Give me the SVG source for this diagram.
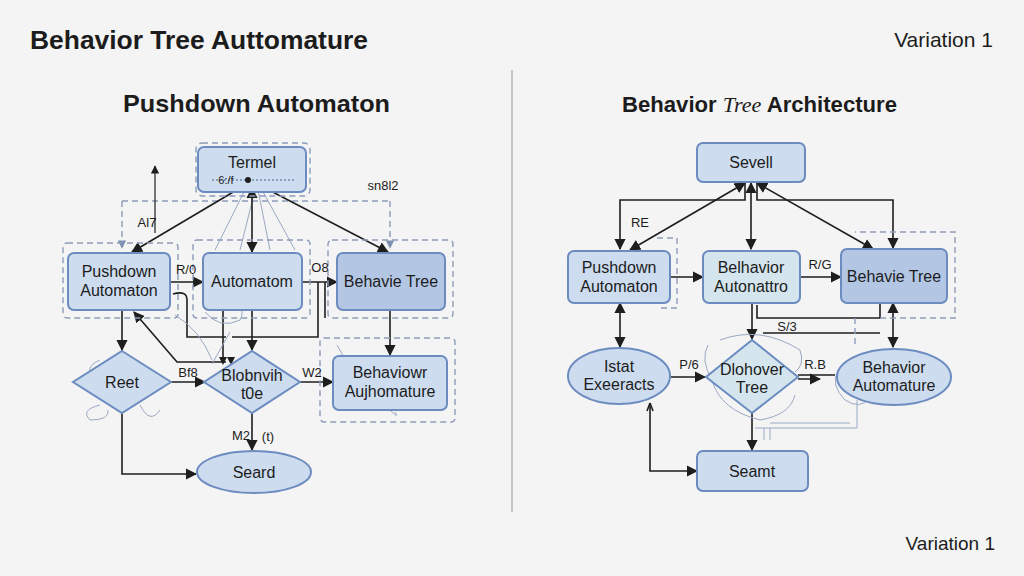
<svg xmlns="http://www.w3.org/2000/svg" width="1024" height="576" viewBox="0 0 1024 576">
<defs>
<marker id="ah" viewBox="0 0 10 10" refX="9" refY="5" markerWidth="7" markerHeight="7" orient="auto-start-reverse"><path d="M0,0 L10,5 L0,10 z" fill="#1e1e1e"/></marker>
<marker id="ahg" viewBox="0 0 10 10" refX="9" refY="5" markerWidth="6" markerHeight="6" orient="auto-start-reverse"><path d="M0,0 L10,5 L0,10 z" fill="#7d8fb0"/></marker>
</defs>
<style>
text{font-family:"Liberation Sans",Arial,sans-serif;fill:#1c1c1c}
.n{fill:#cddcef;stroke:#6c8cc0;stroke-width:2}
.nd{fill:#b3c6e4;stroke:#6c8cc0;stroke-width:2}
.nl{fill:#d5e5ee;stroke:#6c8cc0;stroke-width:2}
.t{font-size:16px;text-anchor:middle}
.c{fill:none;stroke:#1e1e1e;stroke-width:1.6}
.a{marker-end:url(#ah)}
.b{marker-start:url(#ah);marker-end:url(#ah)}
.d{fill:none;stroke:#8d9cb8;stroke-width:1.4;stroke-dasharray:6 4}
.f{fill:none;stroke:#9aa8c4;stroke-width:1}
.l{font-size:13px;text-anchor:middle}
</style>
<rect width="1024" height="576" fill="#f4f4f4"/>
<text x="30" y="49" font-size="26" font-weight="bold" textLength="338" lengthAdjust="spacingAndGlyphs">Behavior Tree Auttomature</text>
<text x="993" y="47" font-size="21" text-anchor="end">Variation 1</text>
<text x="995" y="550" font-size="19" text-anchor="end">Variation 1</text>
<line x1="512" y1="70" x2="512" y2="512" stroke="#c4c4c4" stroke-width="2"/>
<text x="123" y="112" font-size="24" font-weight="bold" textLength="267" lengthAdjust="spacingAndGlyphs">Pushdown Automaton</text>
<text x="622" y="112" font-size="22" font-weight="bold" textLength="275" lengthAdjust="spacingAndGlyphs">Behavior <tspan font-style="italic" font-family="Liberation Serif" font-weight="normal">Tree</tspan> Architecture</text>

<g id="connectors">
<!-- left panel -->
<path class="d" d="M122,201 H390"/>
<path class="d" d="M122,201 V248" marker-end="url(#ahg)"/>
<path class="d" d="M390,201 V248" marker-end="url(#ahg)"/>
<path class="f" d="M245,190 L215,250 M255,190 L240,250 M262,190 L295,250 M258,190 L270,250"/>
<line class="c a" x1="155" y1="233" x2="155" y2="166" style="stroke-width:1.2"/>
<line class="c a" x1="240" y1="188" x2="132" y2="252"/>
<line class="c b" x1="252" y1="188" x2="252" y2="252"/>
<line class="c a" x1="265" y1="188" x2="388" y2="252"/>
<line class="c a" x1="170" y1="282" x2="203" y2="282"/>
<line class="c a" x1="302" y1="282" x2="337" y2="282"/>
<path class="c" d="M173,294 Q187,290 187,300 V337 H226 M232,337 H318 V282"/>
<path class="c" d="M325,282 V318"/>
<line class="c a" x1="122" y1="310" x2="122" y2="350"/>
<line class="c a" x1="252" y1="310" x2="252" y2="350"/>
<line class="c a" x1="390" y1="310" x2="390" y2="355"/>
<path class="c" d="M226,362 H177 L134,312" marker-end="url(#ah)"/>
<path class="c" d="M223,310 V362"/>
<path d="M219,357 L227,357 L223,365 z M227,357 L235,357 L231,365 z" fill="#1e1e1e"/>
<line class="c a" x1="170" y1="382" x2="205" y2="382"/>
<line class="c a" x1="300" y1="382" x2="333" y2="382"/>
<path class="c a" d="M122,413 V474 H196"/>
<line class="c a" x1="252" y1="413" x2="252" y2="450"/>
<path class="f" d="M230,332 L212,364 M175,315 Q200,330 212,360"/>
<path class="f" d="M100,360 Q88,365 90,372 M100,405 Q80,410 90,420 Q110,420 108,410 M140,405 Q150,425 160,410"/>
<path class="f" d="M337,345 Q360,390 390,410 Q400,420 395,412"/>
<path class="f" d="M205,312 Q220,330 240,320 Q245,312 238,305"/>

<!-- right panel -->
<line class="c b" x1="745" y1="183" x2="630" y2="250"/>
<line class="c b" x1="751" y1="183" x2="751" y2="249"/>
<line class="c b" x1="757" y1="183" x2="873" y2="249"/>
<path class="c a" d="M745,183 V200 H620 V249"/>
<path class="c a" d="M757,183 V200 H893 V248"/>
<line class="c a" x1="670" y1="277" x2="703" y2="277"/>
<line class="c a" x1="800" y1="277" x2="841" y2="277"/>
<line class="c b" x1="620" y1="303" x2="620" y2="347"/>
<line class="c b" x1="893" y1="303" x2="893" y2="347"/>
<line class="c a" x1="752" y1="303" x2="752" y2="339"/>
<path class="c" d="M757,305 V318 H880 V303"/>
<path class="c" d="M763,333 H880"/>
<path class="d" d="M880,318 H955 V232 H855 M855,318 V346"/>
<path class="d" d="M657,238 H677 V308 H657"/>
<line class="c a" x1="671" y1="377" x2="705" y2="377"/>
<path class="c a" d="M798,375 H835 M798,379 H820"/>
<line class="c a" x1="752" y1="413" x2="752" y2="450"/>
<path class="c a" d="M650,403 V471 H697"/>
<path class="c" d="M650,403 l-3,8 M650,403 l3,8"/>
<path class="f" d="M857,400 V428 H755 M850,423 H770" stroke="#8ea2c8"/>
<path class="f" d="M770,428 V440 M764,428 V440"/>
<path class="f" d="M708,345 Q700,360 712,380 Q720,410 760,420 Q790,415 795,395 M720,340 Q760,325 800,350 Q805,365 795,372"/>
<path class="f" d="M838,370 Q830,385 845,400 Q860,410 870,398"/>
</g>

<g id="n-termel">
<rect x="196" y="143" width="114" height="53" rx="6" class="d"/>
<rect x="198" y="147" width="108" height="45" rx="6" class="n"/>
<text x="252" y="168" class="t">Termel</text>
<path d="M212,180 H295" stroke="#4a5f88" stroke-width="1.2" stroke-dasharray="2 2"/>
<text x="226" y="184" font-size="11" text-anchor="middle">6:/f</text>
<circle cx="248" cy="180" r="3" fill="#1e1e1e"/>
</g>
<g id="n-pushdown-l">
<rect x="63" y="243" width="115" height="75" rx="4" class="d"/>
<rect x="68" y="253" width="102" height="57" rx="6" class="n"/>
<text x="119" y="277" class="t">Pushdown</text>
<text x="119" y="296" class="t">Automaton</text>
</g>
<g id="n-automaton">
<rect x="193" y="240" width="117" height="78" rx="4" class="d"/>
<rect x="203" y="253" width="99" height="57" rx="6" class="n"/>
<text x="252" y="287" class="t">Automatom</text>
</g>
<g id="n-behavie-l">
<rect x="328" y="240" width="125" height="78" rx="4" class="d"/>
<rect x="337" y="253" width="108" height="57" rx="6" class="nd"/>
<text x="391" y="287" class="t" font-size="15">Behavie Tree</text>
</g>
<g id="n-reet">
<polygon points="122,351 171,382 122,413 73,382" class="n"/>
<text x="122" y="388" class="t">Reet</text>
</g>
<g id="n-blob">
<polygon points="252,351 300,382 252,413 204,382" class="n"/>
<text x="252" y="381" class="t" font-size="15">Blobnvih</text>
<text x="252" y="399" class="t" font-size="15">t0e</text>
</g>
<g id="n-behaviour-auto">
<rect x="320" y="338" width="135" height="84" rx="4" class="d"/>
<rect x="333" y="356" width="114" height="54" rx="6" class="n"/>
<text x="390" y="378" class="t">Behaviowr</text>
<text x="390" y="397" class="t">Aujhomature</text>
</g>
<g id="n-seard">
<ellipse cx="254" cy="472" rx="57" ry="21" class="n"/>
<text x="254" y="478" class="t">Seard</text>
</g>

<g id="n-sevell">
<rect x="697" y="143" width="108" height="39" rx="6" class="n"/>
<text x="751" y="168" class="t">Sevell</text>
</g>
<g id="n-pushdown-r">
<rect x="568" y="251" width="102" height="52" rx="6" class="n"/>
<text x="619" y="273" class="t">Pushdown</text>
<text x="619" y="292" class="t">Automaton</text>
</g>
<g id="n-behavior-auto-r">
<rect x="703" y="251" width="97" height="52" rx="6" class="nl"/>
<text x="751" y="273" class="t">Belhavior</text>
<text x="751" y="292" class="t">Autonattro</text>
</g>
<g id="n-behavie-r">
<rect x="841" y="249" width="106" height="54" rx="6" class="nd"/>
<text x="894" y="282" class="t" font-size="15">Behavie Tree</text>
</g>
<g id="n-istat">
<ellipse cx="619" cy="376" rx="51" ry="28" class="n"/>
<text x="619" y="372" class="t">Istat</text>
<text x="619" y="390" class="t">Exeeracts</text>
</g>
<g id="n-dlohover">
<polygon points="752,340 798,377 752,413 706,377" class="nl"/>
<text x="752" y="375" class="t" font-size="15">Dlohover</text>
<text x="752" y="393" class="t" font-size="15">Tree</text>
</g>
<g id="n-behavior-auto-e">
<ellipse cx="894" cy="377" rx="57" ry="28" class="n"/>
<text x="894" y="373" class="t">Behavior</text>
<text x="894" y="391" class="t">Automature</text>
</g>
<g id="n-seamt">
<rect x="697" y="451" width="111" height="40" rx="6" class="n"/>
<text x="752" y="477" class="t">Seamt</text>
</g>

<g id="labels">
<text x="147" y="227" class="l">Al7</text>
<text x="383" y="190" class="l" font-size="11" fill="#555">sn8l2</text>
<text x="186" y="274" class="l">R/0</text>
<text x="320" y="272" class="l">O8</text>
<text x="188" y="377" class="l">Bf8</text>
<text x="312" y="377" class="l">W2</text>
<text x="241" y="440" class="l">M2</text>
<text x="268" y="441" class="l">(t)</text>
<text x="640" y="227" class="l">RE</text>
<text x="820" y="269" class="l">R/G</text>
<text x="787" y="331" class="l">S/3</text>
<text x="689" y="369" class="l">P/6</text>
<text x="815" y="369" class="l">R.B</text>
</g>
</svg>
